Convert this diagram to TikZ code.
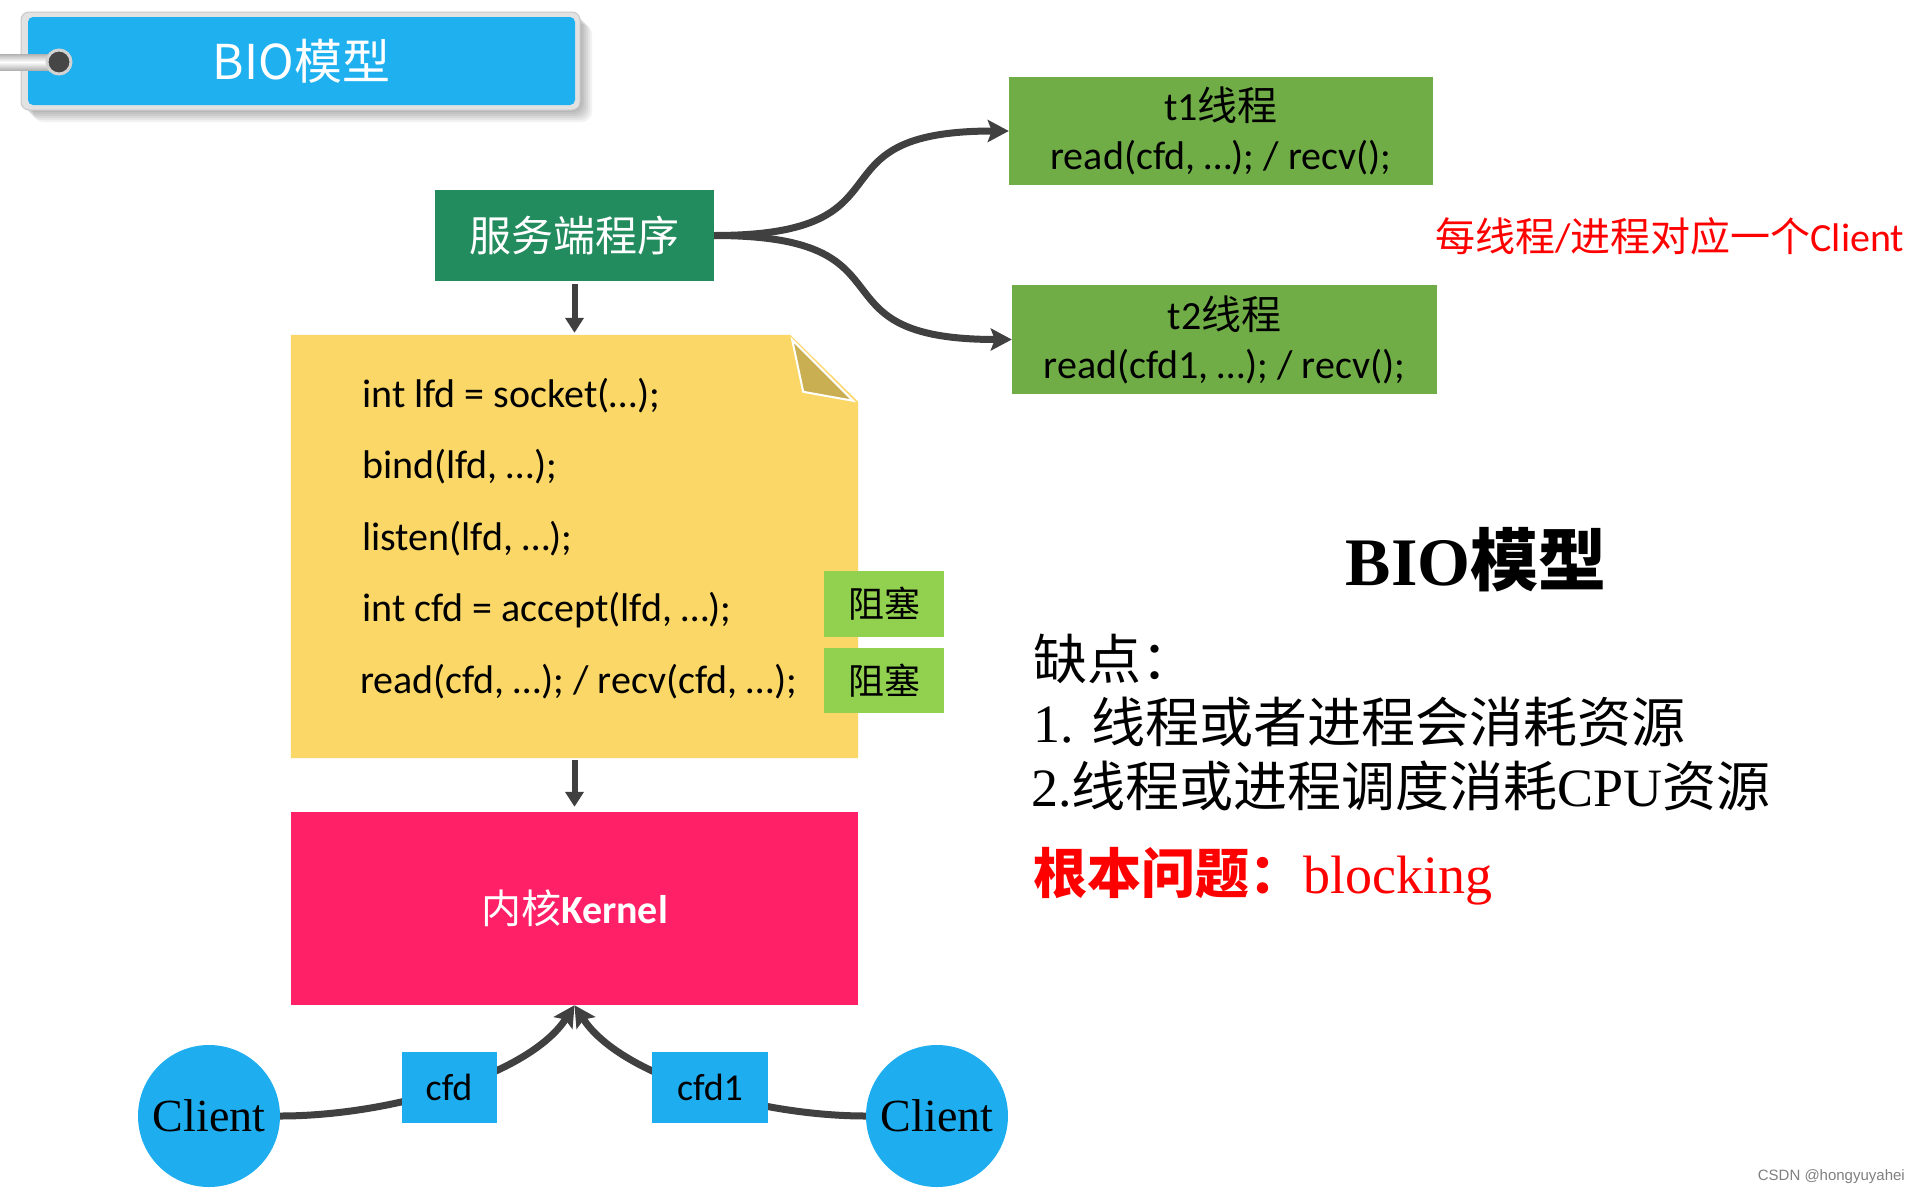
\documentclass[tikz,border=0pt]{standalone}
\usepackage{fontspec}
\setmainfont{Carlito}
\newfontfamily\cjk{Noto Sans CJK SC}
\newfontfamily\tms{Liberation Serif}
\newfontfamily\lsans{Liberation Sans}
\usetikzlibrary{arrows.meta}
\definecolor{tagblue}{RGB}{31,176,240}
\definecolor{taggray}{RGB}{226,226,226}
\definecolor{tagdraw}{RGB}{200,200,200}
\definecolor{holegray}{RGB}{70,70,70}
\definecolor{srvgreen}{RGB}{35,140,95}
\definecolor{noteyellow}{RGB}{250,215,102}
\definecolor{foldcol}{RGB}{201,175,82}
\definecolor{blkgreen}{RGB}{146,208,80}
\definecolor{tgreen}{RGB}{112,173,71}
\definecolor{kernpink}{RGB}{255,32,104}
\definecolor{clientblue}{RGB}{30,174,239}
\definecolor{arrowgray}{RGB}{64,64,64}
\newcommand\zh[1]{{\cjk #1}}
\newcommand\myfs[1]{\fontsize{#1}{#1}\selectfont}
\begin{document}
\begin{tikzpicture}[x=1pt,y=1pt,
  box/.style={rectangle, inner sep=0pt, align=center},
  conn/.style={line width=7pt, draw=arrowgray, -{Stealth[length=21pt,width=22pt,inset=4pt]}},
  vconn/.style={line width=6pt, draw=arrowgray, -{Triangle[length=15pt,width=18pt]}},
  code/.style={anchor=west, inner sep=0pt, font=\myfs{40}},
  rtext/.style={anchor=west, inner sep=0pt, font=\myfs{54}},
]
\useasboundingbox (0,0) rectangle (1917,-1197);
\fill[white] (0,0) rectangle (1917,-1197);

% ---- title tag ----
\foreach \d in {2,4,6,8,10,12}{
  \fill[black,opacity=0.05,rounded corners=10pt] (21+\d,-12-\d) rectangle (580+\d,-110-\d);
}
\node[box, minimum width=559pt, minimum height=98pt, rounded corners=8pt,
      fill=taggray, draw=tagdraw, line width=1pt] (tagframe) at (300.5,-61) {};
\node[box, minimum width=547pt, minimum height=88pt, rounded corners=5pt,
      fill=tagblue, text=white, font=\cjk\myfs{48}] (tag) at (301.5,-61) {BIO模型};
\shade[top color=gray!60, bottom color=gray!60, middle color=white] (0,-54) rectangle (59,-70);
\node[circle, minimum size=24pt, inner sep=0pt, fill=holegray, draw=gray!35, line width=3pt] (hole) at (59,-62) {};

% ---- server ----
\node[box, fill=srvgreen, minimum width=279pt, minimum height=91pt, text=white,
      font=\cjk\myfs{42}] (srv) at (574.5,-235.5) {服务端程序};

% ---- note ----
\node[minimum width=567pt, minimum height=423pt, inner sep=0pt] (note) at (574.5,-546.5) {};
\fill[noteyellow] (note.north west) -- ([xshift=-68pt]note.north east)
  -- ([yshift=-67pt]note.north east) -- (note.south east) -- (note.south west) -- cycle;
\filldraw[fill=foldcol, draw=white, line width=2pt]
  ([xshift=-66pt,yshift=-5pt]note.north east) -- ([xshift=-55pt,yshift=-57pt]note.north east)
  -- ([xshift=-5pt,yshift=-66pt]note.north east) -- cycle;
\node[code] (c1) at (362,-396) {int lfd = socket(…);};
\node[code] (c2) at (362,-467) {bind(lfd, …);};
\node[code] (c3) at (362,-539) {listen(lfd, …);};
\node[code] (c4) at (362,-610) {int cfd = accept(lfd, …);};
\node[code] (c5) at (360,-682) {read(cfd, …); / recv(cfd, …);};

\node[box, fill=blkgreen, minimum width=120pt, minimum height=66pt, font=\cjk\myfs{36}] (blk1) at (884,-604) {阻塞};
\node[box, fill=blkgreen, minimum width=120pt, minimum height=65pt, font=\cjk\myfs{36}] (blk2) at (884,-680.5) {阻塞};

% ---- kernel ----
\node[box, fill=kernpink, minimum width=567pt, minimum height=193pt, text=white,
      font=\myfs{40}] (kern) at (574.5,-908.5) {\zh{内核}\textbf{Kernel}};

\draw[vconn, shorten <=3pt, shorten >=2pt] (srv.south) -- (note.north);
\draw[vconn, shorten <=2pt, shorten >=5pt] (note.south) -- (kern.north);

% ---- threads ----
\node[box, fill=tgreen, minimum width=424pt, minimum height=108pt,
      font={\fontsize{40}{49}\selectfont}] (t1) at (1221,-131) {t1\zh{线程}\\read(cfd, …); / recv();};
\node[box, fill=tgreen, minimum width=425pt, minimum height=109pt,
      font={\fontsize{40}{49}\selectfont}] (t2) at (1224.5,-339.5) {t2\zh{线程}\\read(cfd1, …); / recv();};
\draw[conn] (srv.east) to[out=0,in=180,looseness=1.7] (t1.west);
\draw[conn] (srv.east) to[out=0,in=180,looseness=1.7] (t2.west);

\node[anchor=west, inner sep=0pt, text=red, font=\myfs{40}] (each) at (1435,-236)
  {\zh{每线程}/\zh{进程对应一个}Client};

% ---- clients ----
\node[circle, fill=clientblue, minimum size=142pt, inner sep=0pt, font=\tms\myfs{46}] (lc) at (209,-1116) {Client};
\node[circle, fill=clientblue, minimum size=142pt, inner sep=0pt, font=\tms\myfs{46}] (rc) at (937,-1116) {Client};
\draw[conn] (lc.east) .. controls +(110,0) and +(-45,-70) .. (kern.south);
\draw[conn] (rc.west) .. controls +(-110,0) and +(45,-70) .. (kern.south);
\node[box, fill=clientblue, minimum width=95pt, minimum height=71pt, font=\myfs{38}] (cfd) at (449,-1087) {cfd};
\node[box, fill=clientblue, minimum width=116pt, minimum height=71pt, font=\myfs{38}] (cfdone) at (710,-1087) {cfd1};

% ---- right text ----
\node[inner sep=0pt, font=\myfs{68}] (bio) at (1476,-560) {{\tms\bfseries BIO}{\cjk\bfseries 模型}};
\node[rtext] (q0) at (1033,-659) {\zh{缺点：}};
\node[rtext] (q1) at (1033,-722) {{\tms 1. }\zh{线程或者进程会消耗资源}};
\node[rtext] (q2) at (1031,-786) {{\tms 2.}\zh{线程或进程调度消耗}{\tms CPU}\zh{资源}};
\node[rtext, text=red] (q3) at (1033,-876) {{\cjk\bfseries 根本问题：}{\tms blocking}};

\node[anchor=east, inner sep=0pt, text=gray, font=\lsans\myfs{15}] (wm) at (1905,-1177) {CSDN @hongyuyahei};
\end{tikzpicture}
\end{document}
